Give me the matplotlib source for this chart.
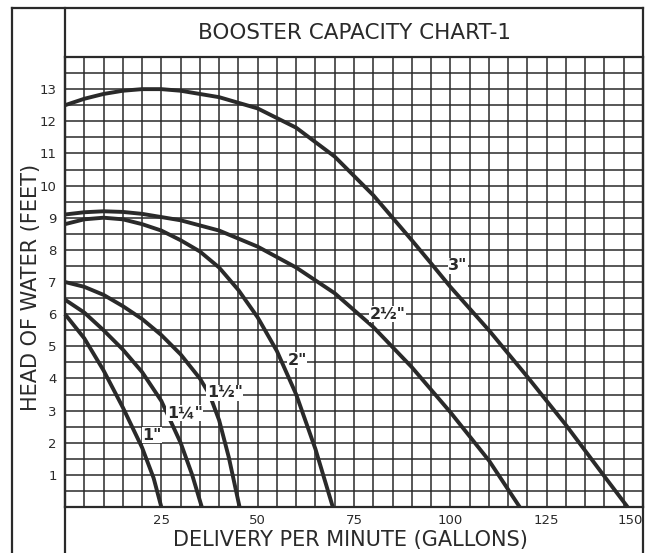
import matplotlib
matplotlib.use("Agg")
import matplotlib.pyplot as plt
from matplotlib.lines import Line2D
from matplotlib.ticker import MultipleLocator, FixedLocator

plt.rcParams['font.family'] = ['DejaVu Sans']

INK = '#2a2a2a'

title = "BOOSTER CAPACITY CHART-1"
x_label = "DELIVERY PER MINUTE (GALLONS)"
y_label = "HEAD OF WATER (FEET)"

x_ticks = [25, 50, 75, 100, 125, 150]
y_ticks = [1, 2, 3, 4, 5, 6, 7, 8, 9, 10, 11, 12, 13]

# Pump curves: delivery (gallons per minute) vs head of water (feet)
q_1in = [0, 5, 10, 15, 20, 23, 25]
h_1in = [6.0, 5.25, 4.25, 3.1, 1.85, 0.9, 0]

q_1_25in = [0, 5, 10, 15, 20, 25, 30, 33, 35.5]
h_1_25in = [6.45, 6.05, 5.5, 4.9, 4.2, 3.3, 2.0, 1.0, 0]

q_1_5in = [0, 5, 10, 15, 20, 25, 30, 35, 37.5, 40, 42.5, 45.3]
h_1_5in = [7.0, 6.85, 6.6, 6.25, 5.85, 5.35, 4.75, 4.0, 3.5, 2.7, 1.55, 0]

q_2in = [0, 5, 10, 15, 20, 25, 30, 35, 40, 45, 50, 55, 60, 65, 69.5]
h_2in = [8.8, 8.95, 9.0, 8.95, 8.8, 8.6, 8.3, 7.95, 7.45, 6.75, 5.9, 4.85, 3.5, 1.8, 0]

q_2_5in = [0, 5, 10, 15, 20, 30, 40, 50, 60, 70, 80, 90, 100, 110, 118]
h_2_5in = [9.1, 9.17, 9.2, 9.18, 9.12, 8.92, 8.6, 8.1, 7.45, 6.65, 5.6, 4.35, 2.95, 1.45, 0]

q_3in = [0, 5, 10, 15, 20, 25, 30, 40, 50, 60, 70, 80, 85, 90, 95, 100, 110, 120, 130, 140, 146]
h_3in = [12.5, 12.7, 12.85, 12.95, 13.0, 13.0, 12.95, 12.75, 12.4, 11.8, 10.9, 9.7, 9.0, 8.3, 7.58,
         6.85, 5.5, 4.05, 2.55, 0.95, 0]

curve_names = ['1"', '1¼"', '1½"', '2"', '2½"', '3"']
label_q = [22.6, 31.1, 41.5, 60.2, 83.8, 102.0]
label_h = [2.24, 2.92, 3.55, 4.57, 6.0, 7.5]

curves = [(q_1in, h_1in), (q_1_25in, h_1_25in), (q_1_5in, h_1_5in),
          (q_2in, h_2in), (q_2_5in, h_2_5in), (q_3in, h_3in)]

fig = plt.figure(figsize=(6.47, 5.53), dpi=100)
fig.patch.set_facecolor('white')

W, H = 647.0, 553.0
left, right, top, bottom = 65, 643, 57, 507
ax = fig.add_axes([left / W, 1 - bottom / H, (right - left) / W, (bottom - top) / H])
ax.set_xlim(0, 150)
ax.set_ylim(0, 14)

# Fine grid: 5 gallons by half a foot
ax.xaxis.set_minor_locator(MultipleLocator(5))
ax.yaxis.set_minor_locator(MultipleLocator(0.5))
ax.xaxis.set_major_locator(FixedLocator(x_ticks))
ax.yaxis.set_major_locator(FixedLocator(y_ticks))
ax.grid(True, which='both', color=INK, linewidth=1.1)
ax.set_axisbelow(True)
ax.tick_params(which='both', length=0)
ax.tick_params(axis='x', pad=5, labelsize=9.5, colors=INK)
ax.tick_params(axis='y', pad=6, labelsize=9.5, colors=INK)
for s in ax.spines.values():
    s.set_color(INK)
    s.set_linewidth(1.6)

for lbl in ax.get_xticklabels():
    if lbl.get_text() == '150':
        lbl.set_horizontalalignment('right')

for (q, h) in curves:
    ax.plot(q, h, color=INK, linewidth=2.8, solid_joinstyle='round',
            solid_capstyle='butt', clip_on=False, zorder=3)

for name, xq, yh in zip(curve_names, label_q, label_h):
    ax.text(xq, yh, name, fontsize=11.5, fontweight='bold', color=INK,
            ha='center', va='center', zorder=4,
            bbox=dict(facecolor='white', edgecolor='none', pad=0.5))

# Border of the sheet and title box
def fline(x0, y0, x1, y1, lw=1.6):
    fig.add_artist(Line2D([x0 / W, x1 / W], [1 - y0 / H, 1 - y1 / H],
                          color=INK, linewidth=lw, transform=fig.transFigure))

fline(12, 8, 12, 553)
fline(left, 8, left, 553)
fline(right, 8, right, 553)
fline(12, 8, right, 8)

fig.text((left + right) / 2 / W, 1 - 33 / H, title, ha='center', va='center',
         fontsize=15.5, color=INK)
fig.text(350 / W, 1 - 540 / H, x_label, ha='center', va='center',
         fontsize=15, color=INK)
fig.text(31 / W, 1 - 287 / H, y_label, ha='center', va='center',
         fontsize=15, color=INK, rotation=90)

fig.savefig('out.png', dpi=100, facecolor='white')
